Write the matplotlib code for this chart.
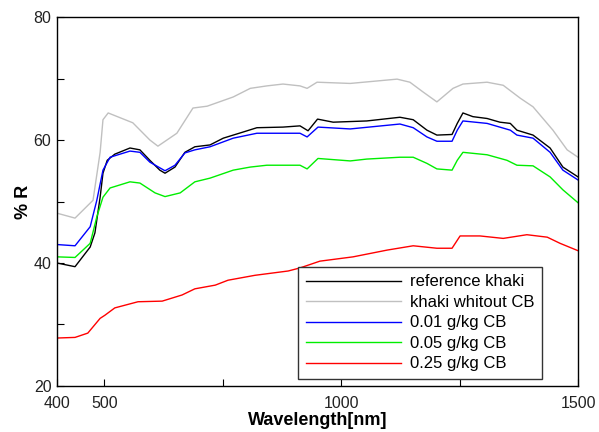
import numpy as np
import matplotlib
matplotlib.use('Agg')
import matplotlib.pyplot as plt

plt.rcParams['font.family'] = ['Liberation Sans', 'DejaVu Sans']

# Espectros de refletância
wl_ref = [400, 438, 470, 480, 491, 497, 506, 522, 554, 575, 596, 617, 628, 649, 670, 691,
          723, 751, 793, 822, 877, 913, 930, 950, 983, 1054, 1124, 1152, 1181, 1202, 1234,
          1245, 1257, 1278, 1308, 1335, 1357, 1371, 1405, 1441, 1468, 1500]
r_ref = [40.0, 39.4, 42.6, 44.9, 50.7, 54.6, 56.7, 57.7, 58.7, 58.4, 56.7, 55.1, 54.6, 55.6, 58.0, 58.9,
         59.2, 60.3, 61.3, 62.0, 62.1, 62.3, 61.5, 63.4, 62.9, 63.1, 63.7, 63.3, 61.6, 60.8, 60.9,
         62.7, 64.4, 63.8, 63.5, 62.9, 62.7, 61.6, 60.8, 58.7, 55.6, 54.0]

wl_sem = [400, 438, 476, 491, 497, 508, 560, 596, 613, 653, 687, 717, 772, 808, 843, 877,
          913, 928, 949, 1019, 1118, 1145, 1173, 1202, 1236, 1257, 1308, 1342, 1378, 1405,
          1447, 1477, 1500]
r_sem = [48.1, 47.3, 50.2, 58.0, 63.3, 64.4, 62.8, 60.0, 59.0, 61.1, 65.2, 65.5, 67.0, 68.4, 68.8, 69.1,
         68.8, 68.4, 69.4, 69.2, 69.9, 69.4, 67.8, 66.2, 68.4, 69.1, 69.4, 68.9, 66.8, 65.4,
         61.6, 58.4, 57.2]

wl_001 = [400, 438, 470, 484, 497, 512, 554, 575, 596, 628, 649, 670, 691, 723, 772, 822,
          913, 928, 951, 1019, 1124, 1152, 1181, 1202, 1234, 1245, 1257, 1308, 1357, 1371,
          1405, 1441, 1468, 1500]
r_001 = [43.0, 42.8, 45.9, 50.2, 55.1, 57.2, 58.2, 58.0, 56.4, 55.0, 55.9, 57.9, 58.4, 58.9, 60.3, 61.1,
         61.1, 60.5, 62.1, 61.8, 62.6, 62.0, 60.5, 59.8, 59.8, 61.6, 63.1, 62.7, 61.6, 60.8,
         60.3, 58.0, 55.1, 53.5]

wl_005 = [400, 438, 470, 484, 497, 512, 554, 575, 607, 628, 660, 691, 723, 772, 808, 843,
          913, 928, 951, 1019, 1054, 1124, 1152, 1181, 1202, 1234, 1245, 1257, 1308, 1350,
          1371, 1405, 1441, 1468, 1500]
r_005 = [41.0, 40.9, 43.2, 47.5, 50.7, 52.2, 53.2, 53.0, 51.4, 50.8, 51.4, 53.2, 53.8, 55.1, 55.6, 55.9,
         55.9, 55.3, 57.0, 56.6, 56.9, 57.2, 57.2, 56.2, 55.3, 55.1, 56.7, 58.0, 57.6, 56.7,
         55.9, 55.8, 54.0, 51.9, 49.8]

wl_025 = [400, 438, 465, 491, 501, 522, 571, 622, 664, 691, 734, 761, 818, 888, 913, 955,
          1025, 1097, 1152, 1202, 1234, 1251, 1293, 1342, 1392, 1435, 1462, 1500]
r_025 = [27.8, 27.9, 28.6, 31.0, 31.5, 32.7, 33.7, 33.8, 34.8, 35.8, 36.4, 37.2, 38.0, 38.7, 39.2, 40.3,
         41.0, 42.1, 42.8, 42.4, 42.4, 44.4, 44.4, 44.0, 44.6, 44.2, 43.2, 42.0]

# %%
fig = plt.figure(figsize=(5.99, 4.32), dpi=100)
ax = fig.add_axes([0.0952, 0.1065, 0.8698, 0.8541])

ax.plot(wl_ref, r_ref, color='black', lw=1.0, label='reference khaki')
ax.plot(wl_sem, r_sem, color='#c0c0c0', lw=1.0, label='khaki whitout CB')
ax.plot(wl_001, r_001, color='blue', lw=1.0, label='0.01 g/kg CB')
ax.plot(wl_005, r_005, color='#00ee00', lw=1.0, label='0.05 g/kg CB')
ax.plot(wl_025, r_025, color='red', lw=1.0, label='0.25 g/kg CB')

ax.set_xlim(400, 1500)
ax.set_ylim(20, 80)
ax.set_xticks([400, 500, 1000, 1500])
ax.set_xticks([750, 1250], minor=True)
ax.set_yticks([20, 40, 60, 80])
ax.set_yticks([30, 50, 70], minor=True)
ax.tick_params(which='both', direction='in', length=5, width=0.8, labelsize=11.5,
               labelcolor='#222222')
ax.tick_params(axis='x', pad=7)
ax.tick_params(axis='y', pad=4)
for s in ax.spines.values():
    s.set_linewidth(1.0)

ax.set_xlabel('Wavelength[nm]', fontsize=13, fontweight='bold', labelpad=1)
ax.set_ylabel('% R', fontsize=13, fontweight='bold', labelpad=1)

leg = ax.legend(loc='lower left', bbox_to_anchor=(0.4626, 0.019), fontsize=12,
                frameon=True, fancybox=False, edgecolor='#333333', framealpha=1,
                handlelength=5.7, handletextpad=0.55, labelspacing=0.33, borderpad=0.45,
                borderaxespad=0)
leg.get_frame().set_linewidth(1.0)

fig.savefig('out.png', dpi=100)
